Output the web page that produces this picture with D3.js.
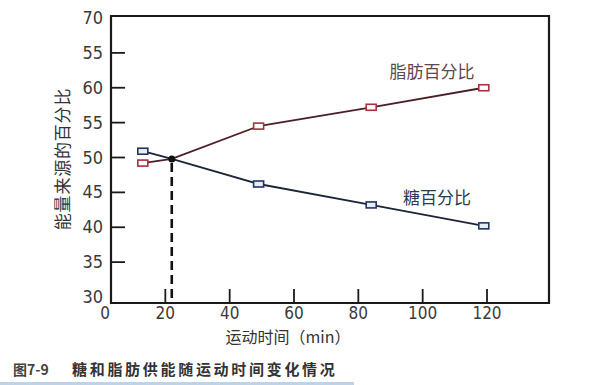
<!DOCTYPE html>
<html>
<head>
<meta charset="utf-8">
<script src="https://cdn.jsdelivr.net/npm/d3@7"></script>
<style>
  body { margin: 0; background: #fff; }
  svg { display: block; }
  .num { font-family: "Liberation Sans Narrow", "DejaVu Sans Condensed", "Liberation Sans", sans-serif; font-size: 18px; fill: #3a3a3a; }
  .cjk { font-family: "Noto Sans CJK SC", sans-serif; }
</style>
</head>
<body>
<svg id="chart" width="600" height="385"></svg>
<script>
// exercise time (min) where markers sit
const times = [13, 49, 84, 119];
// percentage of energy from fat / sugar
const fatPct = [49.2, 54.5, 57.2, 60.0];
const sugarPct = [50.9, 46.2, 43.2, 40.2];
// crossover point [time, pct]
const cross = [22, 49.8];

const yTicks = [70, 65, 60, 55, 50, 45, 40, 35, 30];
const yTickLabels = ["70", "55", "60", "55", "50", "45", "40", "35", "30"];
const xTicks = [20, 40, 60, 80, 100, 120];
const xTickLabels = [0, 20, 40, 60, 80, 100, 120];

const svg = d3.select("#chart");
const frame = { left: 111, right: 549, top: 16, bottom: 303 };

const x = d3.scaleLinear().domain([0, 120]).range([101, 487]);
const y = d3.scaleLinear().domain([30, 70]).range([297, 18]);

// frame
svg.append("path")
  .attr("d", `M${frame.left},${frame.bottom}V${frame.top}H${frame.right}V${frame.bottom}Z`)
  .attr("fill", "none")
  .attr("stroke", "#1a1a1a")
  .attr("stroke-width", 2.2);

// y ticks (inward)
svg.append("g").selectAll("line")
  .data(yTicks.filter(v => v !== 70 && v !== 30))
  .join("line")
  .attr("x1", frame.left).attr("x2", frame.left + 14)
  .attr("y1", d => y(d)).attr("y2", d => y(d))
  .attr("stroke", "#1a1a1a").attr("stroke-width", 1.8);

svg.append("g").selectAll("text")
  .data(yTicks)
  .join("text")
  .attr("class", "num")
  .attr("x", 103)
  .attr("y", d => y(d) + 6)
  .attr("text-anchor", "end")
  .text((d, i) => yTickLabels[i]);

// x ticks (upward)
svg.append("g").selectAll("line")
  .data(xTicks)
  .join("line")
  .attr("x1", d => x(d)).attr("x2", d => x(d))
  .attr("y1", frame.bottom).attr("y2", frame.bottom - 14)
  .attr("stroke", "#1a1a1a").attr("stroke-width", 1.8);

svg.append("g").selectAll("text")
  .data(xTickLabels)
  .join("text")
  .attr("class", "num")
  .style("font-size", "17px")
  .attr("x", d => d === 0 ? 105 : x(d))
  .attr("y", 319)
  .attr("text-anchor", "middle")
  .text(d => d);

// dashed drop line from crossover
svg.append("line")
  .attr("x1", x(cross[0])).attr("x2", x(cross[0]))
  .attr("y1", y(cross[1]) + 4).attr("y2", frame.bottom)
  .attr("stroke", "#111").attr("stroke-width", 2.6)
  .attr("stroke-dasharray", "9,5");

const line = d3.line().x(d => x(d[0])).y(d => y(d[1]));
function series(vals) {
  const pts = times.map((t, i) => [t, vals[i]]);
  return [pts[0], cross, ...pts.slice(1)];
}

svg.append("path")
  .attr("d", line(series(fatPct)))
  .attr("fill", "none").attr("stroke", "#4a2026").attr("stroke-width", 1.8);
svg.append("path")
  .attr("d", line(series(sugarPct)))
  .attr("fill", "none").attr("stroke", "#1c2536").attr("stroke-width", 1.8);

function markers(vals, stroke, fill) {
  svg.append("g").selectAll("rect")
    .data(times.map((t, i) => [t, vals[i]]))
    .join("rect")
    .attr("x", d => x(d[0]) - 5).attr("y", d => y(d[1]) - 3)
    .attr("width", 10).attr("height", 6)
    .attr("fill", fill).attr("stroke", stroke).attr("stroke-width", 1.6);
}
markers(fatPct, "#a8303f", "#fff");
markers(sugarPct, "#24345e", "#e8ecf4");

svg.append("circle")
  .attr("cx", x(cross[0])).attr("cy", y(cross[1]))
  .attr("r", 3.5).attr("fill", "#111");

// series labels
svg.append("text").attr("class", "cjk")
  .attr("x", 432).attr("y", 78)
  .attr("text-anchor", "middle")
  .attr("font-size", 17).attr("fill", "#5a4a50")
  .text("脂肪百分比");
svg.append("text").attr("class", "cjk")
  .attr("x", 437).attr("y", 204)
  .attr("text-anchor", "middle")
  .attr("font-size", 17).attr("fill", "#2e3a55")
  .text("糖百分比");

// axis titles
svg.append("text").attr("class", "cjk")
  .attr("transform", "translate(69,159) rotate(-90)")
  .attr("text-anchor", "middle")
  .attr("font-size", 17).attr("fill", "#333")
  .attr("letter-spacing", 0.8)
  .text("能量来源的百分比");
svg.append("text").attr("class", "cjk")
  .attr("x", 288).attr("y", 343)
  .attr("text-anchor", "middle")
  .attr("font-size", 16).attr("fill", "#333")
  .text("运动时间（min）");

// caption
svg.append("text").attr("class", "cjk")
  .attr("x", 13).attr("y", 375)
  .attr("font-size", 14).attr("font-weight", "bold").attr("fill", "#444")
  .text("图7-9");
svg.append("text").attr("class", "cjk")
  .attr("x", 72).attr("y", 375)
  .attr("font-size", 15).attr("font-weight", "bold").attr("fill", "#333")
  .attr("letter-spacing", 2.7)
  .text("糖和脂肪供能随运动时间变化情况");

svg.append("rect")
  .attr("x", 0).attr("y", 382).attr("width", 354).attr("height", 3)
  .attr("fill", "#bcd3ea");
</script>
</body>
</html>
